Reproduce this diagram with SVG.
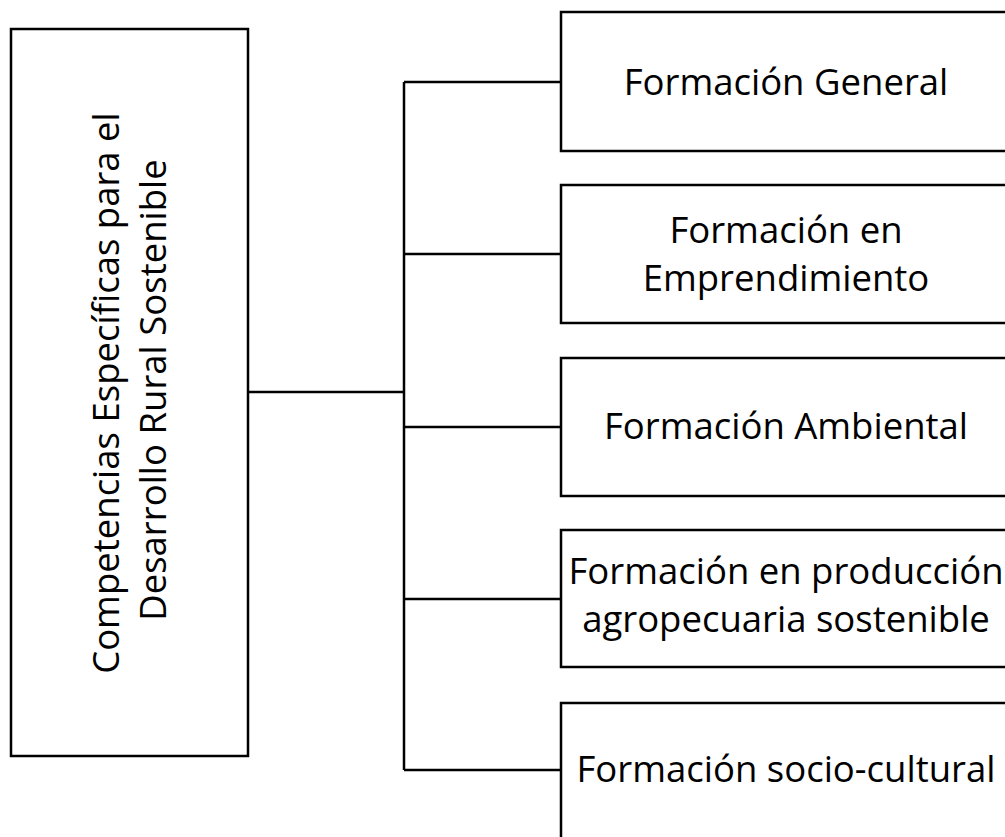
<svg xmlns="http://www.w3.org/2000/svg" width="1005" height="837" viewBox="0 0 1005 837">
<style>
.box{fill:#fff;stroke:#000;stroke-width:2.5}
.ln{fill:none;stroke:#000;stroke-width:2.5}
.t{font-family:"Open Sans","Noto Sans",sans-serif;font-size:36.5px;fill:#000;text-anchor:middle}
</style>
<rect width="1005" height="837" fill="#fff"/>
<g id="connectors">
<line class="ln" x1="248" y1="392" x2="404" y2="392"/>
<line class="ln" x1="404" y1="82" x2="404" y2="770"/>
<line class="ln" x1="404" y1="82" x2="561" y2="82"/>
<line class="ln" x1="404" y1="254" x2="561" y2="254"/>
<line class="ln" x1="404" y1="427" x2="561" y2="427"/>
<line class="ln" x1="404" y1="599" x2="561" y2="599"/>
<line class="ln" x1="404" y1="770" x2="561" y2="770"/>
</g>
<g id="root">
<rect class="box" x="11" y="29" width="237" height="727"/>
<text class="t" transform="translate(119,393) rotate(-90)" x="0" y="0">Competencias Específicas para el</text>
<text class="t" transform="translate(166,390) rotate(-90)" x="0" y="0">Desarrollo Rural Sostenible</text>
</g>
<g id="n1">
<rect class="box" x="561" y="12" width="450" height="139"/>
<text class="t" x="786" y="95">Formación General</text>
</g>
<g id="n2">
<rect class="box" x="561" y="185" width="450" height="138"/>
<text class="t" x="786" y="243">Formación en</text>
<text class="t" x="786" y="291">Emprendimiento</text>
</g>
<g id="n3">
<rect class="box" x="561" y="358" width="450" height="138"/>
<text class="t" x="786" y="439">Formación Ambiental</text>
</g>
<g id="n4">
<rect class="box" x="561" y="530" width="450" height="137"/>
<text class="t" x="786" y="584">Formación en producción</text>
<text class="t" x="786" y="632">agropecuaria sostenible</text>
</g>
<g id="n5">
<rect class="box" x="561" y="703" width="450" height="139"/>
<text class="t" x="786" y="782">Formación socio-cultural</text>
</g>
</svg>
